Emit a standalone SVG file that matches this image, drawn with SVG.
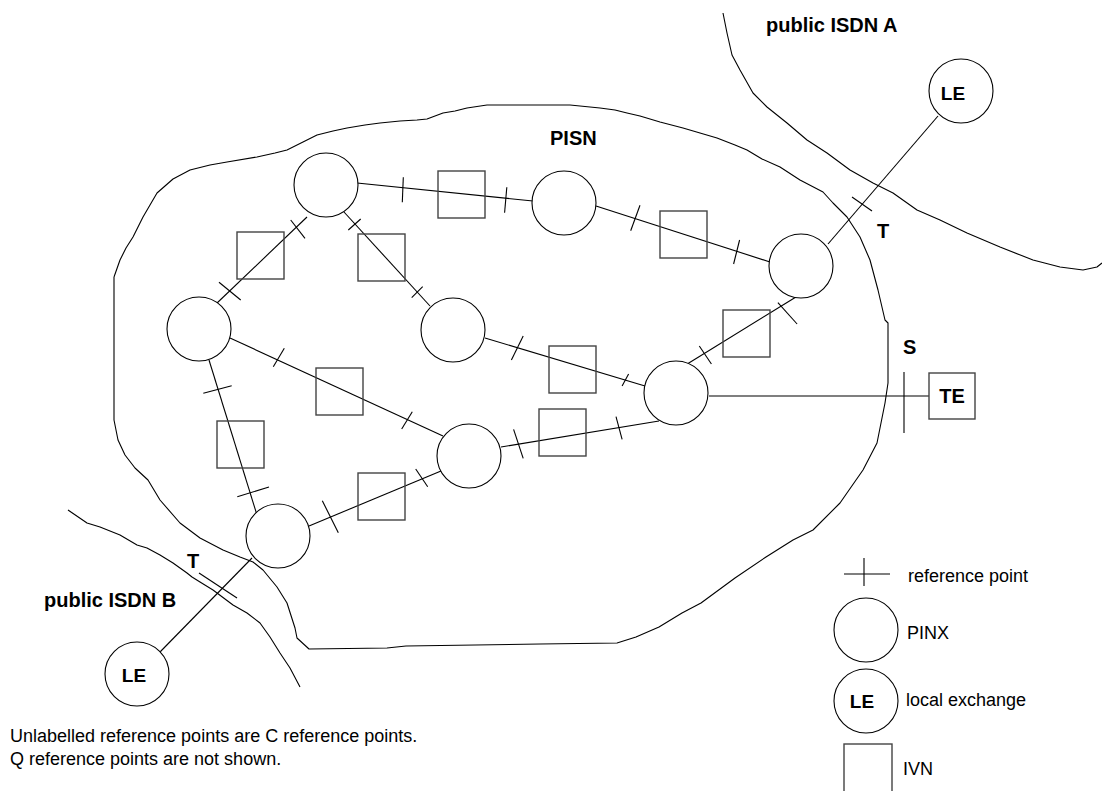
<svg xmlns="http://www.w3.org/2000/svg" width="1102" height="791" viewBox="0 0 1102 791">
<style>
.n{fill:#fff;stroke:#000;stroke-width:1.1}
.b{fill:none;stroke:#444;stroke-width:1.4}
.c{stroke:#000;stroke-width:1.1;fill:none}
.bd{fill:none;stroke:#000;stroke-width:1.1;stroke-linejoin:round}
.lb{font-family:"Liberation Sans",Arial,sans-serif;font-weight:bold;font-size:20px;fill:#000}
.le{font-family:"Liberation Sans",Arial,sans-serif;font-weight:bold;font-size:19px;fill:#000;text-anchor:middle}
.tx{font-family:"Liberation Sans",Arial,sans-serif;font-size:18px;fill:#000}
</style>
<rect width="1102" height="791" fill="#fff"/>
<g id="boundaries">
<polyline id="pisn-outline" class="bd" points="114,277 120,260 126,248 133,237 143,217 150,205 157,193 165,186 173,179 190,170 210,165 227,162 257,157 275,153 287,150 303,142 317,135 333,131 347,128 365,125 380,123 400,121 417,120 427,119 443,113 455,111 467,108 487,105 570,105 600,108 615,110 627,113 640,116 660,122 683,128 700,133 717,138 735,145 747,150 762,159 780,167 800,180 823,192 833,203 847,217 860,237 870,260 878,290 885,320 888,323 888,383 885,403 877,443 863,470 840,503 813,530 793,540 766,557 735,578 701,603 682,613 659,627 636,637 617,643 540,644 406,646 387,648 309,649 297,638 295,628 287,603 277,587 263,570 253,562 240,557 223,550 200,538 180,523 160,500 148,480 135,468 125,455 118,440 114,420 114,368 114,277"/>
<polyline id="isdn-a-boundary" class="bd" points="723,13 727,33 732,55 740,70 753,93 767,107 787,123 807,140 827,153 850,170 873,183 893,193 917,210 940,220 967,233 1000,247 1033,260 1060,267 1083,270 1097,267 1102,263"/>
<polyline id="isdn-b-boundary" class="bd" points="68,510 87,523 100,527 120,535 137,545 147,548 160,555 173,563 187,573 192,577 200,582 213,590 233,605 247,613 260,623 270,637 280,653 290,668 300,687"/>
</g>
<g id="connectors">
<line class="c" x1="357" y1="183" x2="533" y2="201"/>
<line class="c" x1="596" y1="206" x2="770" y2="262"/>
<line class="c" x1="344" y1="212" x2="430" y2="306"/>
<line class="c" x1="307" y1="217" x2="216" y2="304"/>
<line class="c" x1="230" y1="338" x2="443" y2="436"/>
<line class="c" x1="209" y1="360" x2="257" y2="515"/>
<line class="c" x1="309" y1="526" x2="441" y2="471"/>
<line class="c" x1="485" y1="338" x2="645" y2="386"/>
<line class="c" x1="684" y1="366" x2="796" y2="297"/>
<line class="c" x1="501" y1="447" x2="659" y2="421"/>
<line class="c" x1="709" y1="396" x2="929" y2="396"/>
<line class="c" x1="828" y1="244" x2="938" y2="116"/>
<line class="c" x1="252" y1="558" x2="160" y2="652"/>
<g id="reference-points">
<line class="c" x1="403.3" y1="177.3" x2="402.3" y2="202.3"/>
<line class="c" x1="506.8" y1="187.3" x2="504.6" y2="212.7"/>
<line class="c" x1="640" y1="205.3" x2="630.7" y2="230.7"/>
<line class="c" x1="739.6" y1="240" x2="733.6" y2="264"/>
<line class="c" x1="290.7" y1="220" x2="305" y2="238.3"/>
<line class="c" x1="219" y1="282.3" x2="240.7" y2="300"/>
<line class="c" x1="348.3" y1="230" x2="360.7" y2="219"/>
<line class="c" x1="411.7" y1="297.7" x2="422.7" y2="286.7"/>
<line class="c" x1="273.3" y1="366.7" x2="284.3" y2="348.3"/>
<line class="c" x1="401.7" y1="429" x2="412.3" y2="411.7"/>
<line class="c" x1="203.3" y1="393.3" x2="231.7" y2="385.7"/>
<line class="c" x1="237.3" y1="496.7" x2="269" y2="487"/>
<line class="c" x1="322.3" y1="500.7" x2="338.3" y2="532.7"/>
<line class="c" x1="415.7" y1="469" x2="427.7" y2="486.7"/>
<line class="c" x1="511.4" y1="360" x2="523.2" y2="336"/>
<line class="c" x1="622.1" y1="386" x2="628.6" y2="374"/>
<line class="c" x1="699.3" y1="346" x2="711.4" y2="364"/>
<line class="c" x1="777.9" y1="302.7" x2="797.1" y2="324"/>
<line class="c" x1="513.6" y1="429.3" x2="523.2" y2="458.3"/>
<line class="c" x1="616" y1="416.7" x2="622.1" y2="439.3"/>
<line class="c" x1="852" y1="197" x2="872" y2="211"/>
<line class="c" x1="904" y1="372" x2="904" y2="433"/>
<line class="c" x1="199" y1="573" x2="237" y2="598"/>
</g>
</g>
<g id="pinx-1"><circle class="n" cx="326" cy="185" r="32"/></g>
<g id="pinx-2"><circle class="n" cx="564" cy="203" r="32"/></g>
<g id="pinx-3"><circle class="n" cx="801" cy="266" r="32"/></g>
<g id="pinx-4"><circle class="n" cx="199" cy="329" r="32"/></g>
<g id="pinx-5"><circle class="n" cx="453" cy="330" r="32"/></g>
<g id="pinx-6"><circle class="n" cx="676" cy="393" r="32"/></g>
<g id="pinx-7"><circle class="n" cx="469" cy="456" r="32"/></g>
<g id="pinx-8"><circle class="n" cx="278" cy="536" r="32"/></g>
<g id="le-a"><circle class="n" cx="961" cy="91" r="32"/><text class="le" x="953" y="100">LE</text></g>
<g id="le-b"><circle class="n" cx="137" cy="674" r="32"/><text class="le" x="134" y="682">LE</text></g>
<g id="ivn-1"><rect class="b" x="438" y="171" width="47" height="47"/></g>
<g id="ivn-2"><rect class="b" x="660" y="211" width="47" height="47"/></g>
<g id="ivn-3"><rect class="b" x="358" y="234" width="47" height="47"/></g>
<g id="ivn-4"><rect class="b" x="237" y="232" width="47" height="47"/></g>
<g id="ivn-5"><rect class="b" x="316" y="368" width="47" height="47"/></g>
<g id="ivn-6"><rect class="b" x="217" y="421" width="47" height="47"/></g>
<g id="ivn-7"><rect class="b" x="358" y="473" width="47" height="47"/></g>
<g id="ivn-8"><rect class="b" x="549" y="346" width="47" height="47"/></g>
<g id="ivn-9"><rect class="b" x="723" y="310" width="47" height="47"/></g>
<g id="ivn-10"><rect class="b" x="539" y="409" width="47" height="47"/></g>
<g id="te"><rect class="b" x="929" y="373" width="46" height="46" style="fill:#fff"/><text class="lb" x="952" y="403" text-anchor="middle">TE</text></g>
<g id="labels">
<text class="lb" x="766" y="32">public ISDN A</text>
<text class="lb" x="550" y="145">PISN</text>
<text class="lb" x="877" y="238">T</text>
<text class="lb" x="903" y="354">S</text>
<text class="lb" x="187" y="568">T</text>
<text class="lb" x="44" y="607">public ISDN B</text>
<text class="tx" x="10" y="742">Unlabelled reference points are C reference points.</text>
<text class="tx" x="10" y="765">Q reference points are not shown.</text>
</g>
<g id="legend">
<line class="c" x1="844" y1="574" x2="890" y2="574"/>
<line class="c" x1="864" y1="558" x2="864" y2="586"/>
<text class="tx" x="908" y="582">reference point</text>
<circle class="n" cx="866" cy="630" r="32"/>
<text class="tx" x="907" y="639">PINX</text>
<circle class="n" cx="866" cy="701" r="32"/>
<text class="le" x="862" y="708">LE</text>
<text class="tx" x="906" y="706">local exchange</text>
<rect class="b" x="844" y="744" width="48" height="50"/>
<text class="tx" x="903" y="775">IVN</text>
</g>
</svg>
